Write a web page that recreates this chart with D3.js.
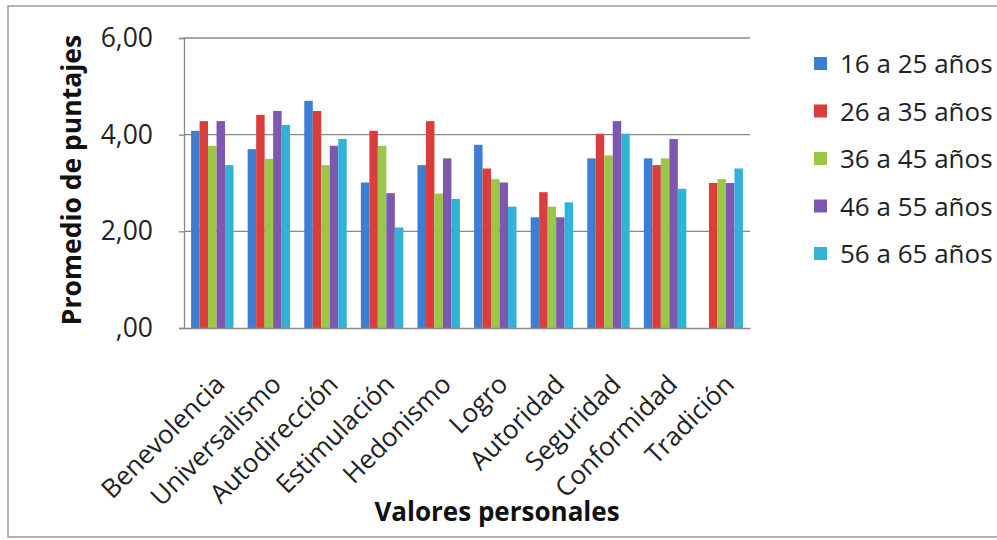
<!DOCTYPE html>
<html>
<head>
<meta charset="utf-8">
<script src="https://cdn.jsdelivr.net/npm/d3@7/dist/d3.min.js"></script>
<style>
  html, body { margin: 0; padding: 0; background: #ffffff; overflow: hidden; }
  svg { display: block; font-family: "Open Sans", "DejaVu Sans", sans-serif; }
</style>
</head>
<body>
<svg id="chart" width="997" height="540"></svg>
<script>
// Personal values (categories on the x axis)
const categories = ["Benevolencia", "Universalismo", "Autodirección", "Estimulación", "Hedonismo",
                    "Logro", "Autoridad", "Seguridad", "Conformidad", "Tradición"];

// Age groups (one bar series each)
const seriesNames = ["16 a 25 años", "26 a 35 años", "36 a 45 años", "46 a 55 años", "56 a 65 años"];

// Mean scores per age group, in category order (null = no bar)
const edad16a25 = [4.08, 3.70, 4.70, 3.01, 3.37, 3.79, 2.29, 3.51, 3.51, null];
const edad26a35 = [4.28, 4.41, 4.49, 4.08, 4.28, 3.30, 2.81, 4.02, 3.37, 3.00];
const edad36a45 = [3.77, 3.50, 3.37, 3.77, 2.78, 3.08, 2.51, 3.57, 3.51, 3.08];
const edad46a55 = [4.28, 4.49, 3.77, 2.79, 3.51, 3.01, 2.29, 4.28, 3.91, 3.00];
const edad56a65 = [3.37, 4.20, 3.91, 2.08, 2.67, 2.51, 2.60, 4.02, 2.88, 3.30];

const seriesValues = [edad16a25, edad26a35, edad36a45, edad46a55, edad56a65];

// Y axis ticks
const yTicks = [0, 2, 4, 6];

const colors = ["#3d7ed2", "#d93e3d", "#9bc747", "#7d58ae", "#31b3d8"];

const svg = d3.select("#chart");
const plot = { left: 184, right: 750, top: 38, bottom: 328 };

// Outer chart frame
svg.append("rect")
  .attr("x", 8).attr("y", 6)
  .attr("width", 1010).attr("height", 531)
  .attr("fill", "#ffffff")
  .attr("stroke", "#9a9a9a")
  .attr("stroke-width", 1.5);

const x = d3.scaleBand()
  .domain(categories)
  .range([plot.left, plot.right])
  .paddingInner(0.25)
  .paddingOuter(0.125);

const xInner = d3.scaleBand()
  .domain(seriesNames)
  .range([0, x.bandwidth()]);

const y = d3.scaleLinear()
  .domain([0, 6])
  .range([plot.bottom, plot.top]);

const fmt = v => {
  const s = d3.format(".2f")(v).replace(".", ",");
  return s.startsWith("0,") ? s.slice(1) : s;
};

// Horizontal gridlines
svg.append("g")
  .selectAll("line")
  .data(yTicks.filter(t => t > 0))
  .join("line")
  .attr("x1", plot.left).attr("x2", plot.right)
  .attr("y1", d => y(d)).attr("y2", d => y(d))
  .attr("stroke", "#888888")
  .attr("stroke-width", 1.3);

// Bars
const groups = svg.append("g")
  .selectAll("g")
  .data(seriesNames.map((name, i) => ({ name, values: seriesValues[i], color: colors[i] })))
  .join("g")
  .attr("fill", d => d.color);

groups.selectAll("rect")
  .data(d => d.values.map((v, j) => ({ v, cat: categories[j], name: d.name })).filter(e => e.v !== null))
  .join("rect")
  .attr("x", d => x(d.cat) + xInner(d.name))
  .attr("y", d => y(d.v))
  .attr("width", xInner.bandwidth())
  .attr("height", d => y(0) - y(d.v));

// Y axis
const yAxis = svg.append("g")
  .attr("transform", `translate(${plot.left},0)`)
  .call(d3.axisLeft(y).tickValues(yTicks).tickFormat(fmt).tickSize(5).tickPadding(26));
yAxis.select(".domain").attr("stroke", "#888888").attr("stroke-width", 1.3);
yAxis.selectAll(".tick line").attr("stroke", "#888888").attr("stroke-width", 1.3);
yAxis.selectAll(".tick text")
  .attr("font-size", 26.5)
  .attr("fill", "#222222")
  .attr("font-family", "'Open Sans', sans-serif");

// X axis baseline and category labels
const xAxis = svg.append("g")
  .attr("transform", `translate(0,${plot.bottom})`)
  .call(d3.axisBottom(x).tickSize(0).tickPadding(0));
xAxis.select(".domain").attr("stroke", "#888888").attr("stroke-width", 1.3);
xAxis.selectAll(".tick text")
  .attr("font-size", 26)
  .attr("fill", "#222222")
  .attr("font-family", "'Open Sans', sans-serif")
  .attr("text-anchor", "end")
  .attr("dy", 0)
  .attr("transform", "translate(14,58) rotate(-45)");

// Axis titles
svg.append("text")
  .attr("transform", `translate(81,${(plot.top + plot.bottom) / 2 - 3}) rotate(-90)`)
  .attr("text-anchor", "middle")
  .attr("font-size", 26.5)
  .attr("font-weight", "bold")
  .attr("fill", "#111111")
  .text("Promedio de puntajes");

svg.append("text")
  .attr("x", 497).attr("y", 521)
  .attr("text-anchor", "middle")
  .attr("font-size", 26)
  .attr("font-weight", "bold")
  .attr("fill", "#111111")
  .text("Valores personales");

// Legend
const legend = svg.append("g")
  .selectAll("g")
  .data(seriesNames)
  .join("g")
  .attr("transform", (d, i) => `translate(814,${63 + i * 47.5})`);

legend.append("rect")
  .attr("x", 0).attr("y", -6)
  .attr("width", 13).attr("height", 13)
  .attr("fill", (d, i) => colors[i]);

legend.append("text")
  .attr("x", 26).attr("y", 10)
  .attr("font-size", 26)
  .attr("fill", "#222222")
  .text(d => d);
</script>
</body>
</html>
